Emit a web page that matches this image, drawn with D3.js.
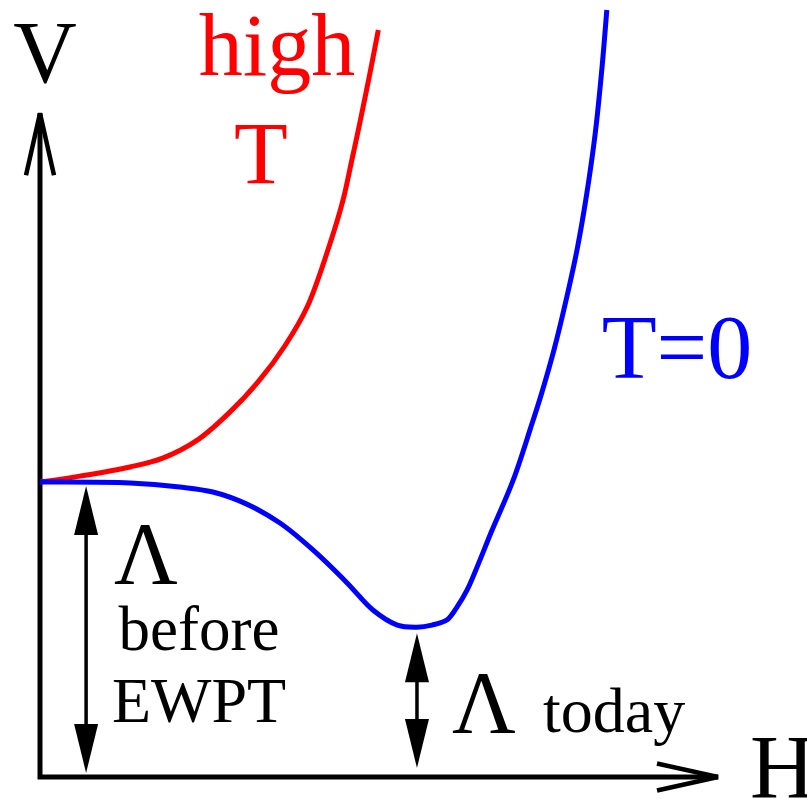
<!DOCTYPE html>
<html>
<head>
<meta charset="utf-8">
<script src="https://cdn.jsdelivr.net/npm/d3@7/dist/d3.min.js"></script>
<style>
  html, body { margin: 0; padding: 0; background: #fff; }
  svg { display: block; }
</style>
</head>
<body>
<div id="chart"></div>
<script>
// Higgs potential V(H) at high temperature and at T = 0
const highTH = [0, 0.59, 1.33, 1.81, 2.32, 2.80, 3.24, 3.61, 3.94, 4.28, 4.47, 4.60, 4.72, 4.87, 4.99];
const highTV = [10, 10.20, 10.51, 10.81, 11.42, 12.37, 13.46, 14.61, 15.93, 18.10, 19.56, 20.92, 22.20, 23.90, 25.32];

const zeroTH = [0, 1.33, 2.06, 2.55, 3.05, 3.54, 4.03, 4.53, 4.91, 5.27, 5.56, 5.78, 6.00, 6.15, 6.30, 6.49, 6.65, 6.98, 7.24, 7.40, 7.58, 7.76, 7.92, 8.05, 8.19, 8.29, 8.36];
const zeroTV = [10, 9.97, 9.83, 9.66, 9.25, 8.61, 7.69, 6.58, 5.66, 5.15, 5.08, 5.15, 5.32, 5.76, 6.34, 7.36, 8.27, 10.07, 11.86, 13.02, 14.47, 16.17, 17.86, 19.56, 21.83, 24.07, 26.0];

// Vacuum energies: before the electroweak phase transition and today
const lambdaNames = ["before", "today"];
const lambdaH = [0.68, 5.56];
const lambdaV = [10, 5.08];

// Axis extents
const hMax = 10;
const vMax = 22.5;

const W = 807, H = 799;
const svg = d3.select("#chart").append("svg").attr("width", W).attr("height", H);

// Pick the first installed Times-like face by comparing glyph widths against generic fallbacks
function pickSerif() {
  const probe = svg.append("text").attr("font-size", 60).text("WVmhigh EWPT today 0123");
  const widthOf = f => { probe.attr("font-family", f); return probe.node().getComputedTextLength(); };
  const base = ["monospace", "sans-serif"].map(widthOf);
  const candidates = ["Liberation Serif", "Tinos", "Times New Roman", "Times", "Nimbus Roman",
                      "Nimbus Roman No9 L", "FreeSerif", "Noto Serif", "DejaVu Serif"];
  let chosen = "serif";
  for (const c of candidates) {
    const w = widthOf(`'${c}', monospace`);
    const w2 = widthOf(`'${c}', sans-serif`);
    if (Math.abs(w - base[0]) > 0.5 && Math.abs(w2 - base[1]) > 0.5) { chosen = `'${c}', serif`; break; }
  }
  probe.remove();
  return chosen;
}
const FONT = pickSerif();

const x = d3.scaleLinear().domain([0, 10]).range([40, 718]);
const y = d3.scaleLinear().domain([0, 10]).range([777, 482]);

// Axes with open arrowheads
svg.append("path")
  .attr("d", `M${x(0)},${y(vMax)} L${x(0)},${y(0)} L${x(hMax)},${y(0)}`)
  .attr("fill", "none").attr("stroke", "#000").attr("stroke-width", 5)
  .attr("stroke-linejoin", "miter");
svg.append("path")
  .attr("d", `M${x(0) - 14},${y(vMax) + 62} L${x(0)},${y(vMax)} L${x(0) + 14},${y(vMax) + 62}`)
  .attr("fill", "none").attr("stroke", "#000").attr("stroke-width", 4.5);
svg.append("path")
  .attr("d", `M${x(hMax) - 61},${y(0) - 13.5} L${x(hMax)},${y(0)} L${x(hMax) - 61},${y(0) + 13.5}`)
  .attr("fill", "none").attr("stroke", "#000").attr("stroke-width", 4.5);

// Potential curves
const line = d3.line().x(d => x(d[0])).y(d => y(d[1])).curve(d3.curveCatmullRom.alpha(0.5));
svg.append("path")
  .datum(highTH.map((h, i) => [h, highTV[i]]))
  .attr("d", line).attr("fill", "none").attr("stroke", "#ff0000").attr("stroke-width", 5);
svg.append("path")
  .datum(zeroTH.map((h, i) => [h, zeroTV[i]]))
  .attr("d", line).attr("fill", "none").attr("stroke", "#0000ff").attr("stroke-width", 5);

// Double-headed arrows marking each vacuum energy
const pads = [[4, 4], [6, 9]];
const headLen = 49, headHalf = 12;
lambdaH.forEach((h, i) => {
  const cx = x(h);
  const top = y(lambdaV[i]) + pads[i][0];
  const bot = y(0) - pads[i][1];
  const g = svg.append("g").attr("class", "lambda-" + lambdaNames[i]);
  g.append("line")
    .attr("x1", cx).attr("x2", cx)
    .attr("y1", top + headLen - 2).attr("y2", bot - headLen + 2)
    .attr("stroke", "#000").attr("stroke-width", 3.5);
  g.append("path")
    .attr("d", `M${cx},${top} L${cx - headHalf},${top + headLen} L${cx + headHalf},${top + headLen} Z`)
    .attr("fill", "#000");
  g.append("path")
    .attr("d", `M${cx},${bot} L${cx - headHalf},${bot - headLen} L${cx + headHalf},${bot - headLen} Z`)
    .attr("fill", "#000");
});

// Labels
function label(txt, px, py, size, color, anchor) {
  svg.append("text")
    .attr("x", px).attr("y", py)
    .attr("font-family", FONT)
    .attr("font-size", size)
    .attr("fill", color)
    .attr("text-anchor", anchor || "middle")
    .text(txt);
}
label("V", 45, 82, 88, "#000");
label("H", 750, 798, 90, "#000", "start");
label("high", 277, 75, 88, "#ff0000");
label("T", 261, 183, 88, "#ff0000");
label("T=0", 677, 378, 90, "#0000ff");

label("\u039B", 146, 583, 88, "#000");
label("before", 199, 650, 63, "#000");
label("EWPT", 199, 722, 64, "#000");

label("\u039B", 484, 732, 88, "#000");
label("today", 543, 732, 64, "#000", "start");
</script>
</body>
</html>
